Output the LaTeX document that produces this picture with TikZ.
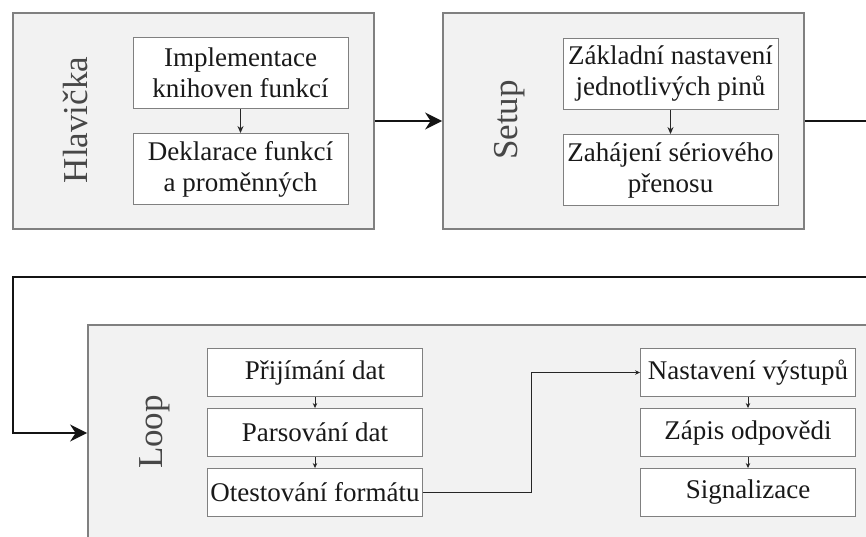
\documentclass[tikz,border=0pt]{standalone}
\usepackage{fontspec}
\setmainfont{Liberation Serif}
\newfontfamily\diagserif{Liberation Serif}
\usetikzlibrary{arrows.meta,calc}
\begin{document}
\begin{tikzpicture}[x=1pt,y=-1pt,
  stage/.style={draw=black!50, line width=1.8pt, fill=black!5, inner sep=0pt,
    minimum width=361pt, minimum height=216pt},
  task/.style={draw=black!50, line width=0.9pt, fill=white, inner sep=0pt,
    minimum width=215pt, align=center, text=black!90,
    font=\diagserif\fontsize{27}{31}\selectfont},
  tall/.style={task, minimum height=71pt},
  short/.style={task, minimum height=48pt},
  stagelabel/.style={rotate=90, anchor=base, inner sep=0pt, text=black!72,
    font=\diagserif\fontsize{35}{40}\selectfont},
  flow/.style={draw=black!92, line width=2.4pt,
    -{Stealth[length=17pt,width=17pt]}},
  sub/.style={draw=black!85, line width=0.9pt,
    -{Stealth[length=7pt,width=6pt]}},
  subtiny/.style={draw=black!85, line width=0.8pt,
    -{Stealth[length=5pt,width=4.5pt]}}]
\useasboundingbox (0,0) rectangle (866,536);
\clip (0,0) rectangle (866,536);

% header stage
\node[stage] (hl) at (193.5,121) {};
\node[stagelabel] (hllbl) at (87,120) {Hlavička};
\node[tall] (h1) at (240.5,73) {Implementace\\knihoven funkcí};
\node[tall] (h2) at (240.5,169) {Deklarace funkcí\\a proměnných};
\draw[sub] (h1.south) -- (h2.north);

% setup stage
\node[stage] (su) at (623.5,121) {};
\node[stagelabel] (sulbl) at (517,120) {Setup};
\node[tall] (s1) at (670.5,74) {Základní nastavení\\jednotlivých pinů};
\node[tall] (s2) at (670.5,170) {Zahájení sériového\\přenosu};
\draw[sub] (s1.south) -- (s2.north);

% loop stage
\node[stage, minimum width=800pt] (lp) at (488,433) {};
\node[stagelabel] (lplbl) at (162,432) {Loop};
\node[short] (l1) at (315,372.5) {Přijímání dat};
\node[short] (l2) at (315,432.5) {Parsování dat};
\node[short] (l3) at (315,492.5) {Otestování formátu};
\node[short] (r1) at (748,372.5) {Nastavení výstupů};
\node[short] (r2) at (748,432.5) {Zápis odpovědi};
\node[short] (r3) at (748,492.5) {Signalizace};
\draw[subtiny] (l1.south) -- (l2.north);
\draw[subtiny] (l2.south) -- (l3.north);
\draw[subtiny] (r1.south) -- (r2.north);
\draw[subtiny] (r2.south) -- (r3.north);
\draw[subtiny] (l3.east) -| ($(l3.east)!0.5!(r1.west)$) |- (r1.west);

% main program flow
\coordinate (back) at (900,277);
\coordinate (left) at (13,277);
\draw[flow] (hl.east) -- (su.west);
\draw[flow] (su.east) -| (back) -- (left) |- (lp.west);
\end{tikzpicture}
\end{document}
